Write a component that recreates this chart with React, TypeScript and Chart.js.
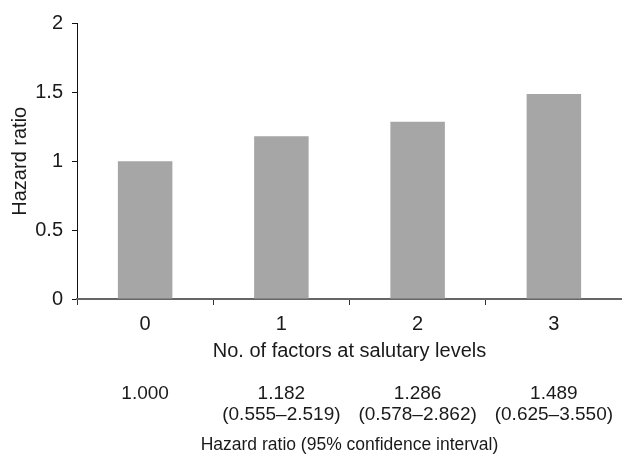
import React, { useEffect, useRef } from "react";
import { Chart, registerables } from "chart.js";

Chart.register(...registerables);

const categories = ["0", "1", "2", "3"];
const hazardRatios = [1.0, 1.182, 1.286, 1.489];
const hrLabels = ["1.000", "1.182", "1.286", "1.489"];
const ciLabels = ["", "(0.555–2.519)", "(0.578–2.862)", "(0.625–3.550)"];
const yTicks = [0, 0.5, 1, 1.5, 2];

const FONT = "'Liberation Sans', Arial, Helvetica, sans-serif";
const TEXT = "#1a1a1a";

export default function App() {
  const ref = useRef<HTMLCanvasElement | null>(null);

  useEffect(() => {
    document.body.style.margin = "0";
    const canvas = ref.current;
    if (!canvas) return;
    const secondRow = hrLabels.map((h, i) => (ciLabels[i] ? [h, ciLabels[i]] : [h]));
    const chart = new Chart(canvas, {
      type: "bar",
      data: {
        labels: categories,
        datasets: [
          {
            data: hazardRatios,
            backgroundColor: "#a6a6a6",
            borderWidth: 0,
            barPercentage: 0.4,
            categoryPercentage: 1,
            xAxisID: "x",
            yAxisID: "y",
          },
        ],
      },
      options: {
        animation: false,
        responsive: false,
        maintainAspectRatio: false,
        layout: { padding: { top: 23.5, left: 0, right: 0, bottom: 0 } },
        plugins: { legend: { display: false }, tooltip: { enabled: false } },
        scales: {
          y: {
            position: "left",
            min: 0,
            max: 2,
            afterBuildTicks: (scale: any) => {
              scale.ticks = yTicks.map((v) => ({ value: v }));
            },
            afterFit: (scale: any) => {
              scale.width = 77;
            },
            grid: {
              display: true,
              drawOnChartArea: false,
              drawTicks: true,
              tickLength: 5,
              color: "#111",
            },
            border: { display: true, color: "#111", width: 1 },
            ticks: {
              padding: 9,
              color: TEXT,
              font: { family: FONT, size: 20 },
              callback: (v: any) => String(v),
            },
            title: {
              display: true,
              text: "Hazard ratio",
              color: TEXT,
              font: { family: FONT, size: 20 },
              padding: { top: 8, bottom: 0 },
            },
          },
          x: {
            position: "bottom",
            offset: true,
            afterFit: (scale: any) => {
              scale.height = 66;
              scale.paddingLeft = 0;
              scale.paddingRight = 0;
            },
            grid: {
              display: true,
              offset: true,
              drawOnChartArea: false,
              drawTicks: true,
              tickLength: 6,
              color: "#333",
            },
            border: { display: true, color: "#666", width: 2 },
            ticks: {
              padding: 7,
              maxRotation: 0,
              color: TEXT,
              font: { family: FONT, size: 20 },
            },
            title: {
              display: true,
              text: "No. of factors at salutary levels",
              color: TEXT,
              font: { family: FONT, size: 20 },
              padding: { top: 0, bottom: 2 },
            },
          },
          x2: {
            type: "category",
            position: "bottom",
            offset: true,
            labels: secondRow as any,
            afterFit: (scale: any) => {
              scale.height = 97;
              scale.paddingLeft = 0;
              scale.paddingRight = 0;
            },
            grid: { display: false },
            border: { display: false },
            ticks: {
              padding: 10,
              maxRotation: 0,
              autoSkip: false,
              color: TEXT,
              font: { family: FONT, size: 19, lineHeight: "21px" as any },
            },
            title: {
              display: true,
              text: "Hazard ratio (95% confidence interval)",
              color: TEXT,
              font: { family: FONT, size: 17.5 },
              padding: { top: 0, bottom: 6.5 },
            },
          },
        },
      },
    });
    return () => chart.destroy();
  }, []);

  return (
    <div style={{ width: 622, height: 462 }}>
      <canvas ref={ref} width={622} height={462} style={{ display: "block" }} />
    </div>
  );
}
